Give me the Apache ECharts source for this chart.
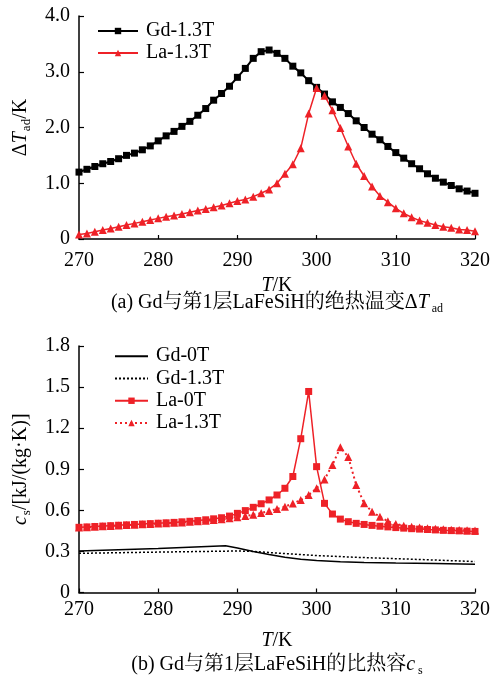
<!DOCTYPE html>
<html>
<head>
<meta charset="utf-8">
<script src="https://cdn.jsdelivr.net/npm/echarts@6/dist/echarts.min.js"></script>
<style>
html,body{margin:0;padding:0;background:#fff;}
#chart{width:494px;height:679px;}
</style>
</head>
<body>
<div id="chart"></div>
<script>
// ---- data ----
var temps = [270,271,272,273,274,275,276,277,278,279,280,281,282,283,284,285,286,287,288,289,290,
             291,292,293,294,295,296,297,298,299,300,301,302,303,304,305,306,307,308,309,310,
             311,312,313,314,315,316,317,318,319,320];
// (a) adiabatic temperature change, K
var gdDeltaT13 = [1.20,1.25,1.30,1.35,1.39,1.44,1.50,1.54,1.60,1.67,1.76,
                  1.85,1.93,2.02,2.11,2.22,2.34,2.49,2.61,2.74,2.90,
                  3.06,3.24,3.36,3.39,3.33,3.24,3.10,2.98,2.84,2.72,
                  2.60,2.46,2.36,2.25,2.12,2.00,1.88,1.78,1.66,1.55,
                  1.45,1.35,1.26,1.17,1.09,1.02,0.96,0.90,0.86,0.82];
var laDeltaT13 = [0.08,0.10,0.13,0.16,0.19,0.22,0.25,0.28,0.31,0.34,0.37,
                  0.40,0.42,0.45,0.48,0.51,0.54,0.57,0.60,0.64,0.68,
                  0.71,0.76,0.82,0.89,1.00,1.17,1.34,1.63,2.25,2.71,
                  2.57,2.31,1.99,1.66,1.35,1.13,0.94,0.77,0.66,0.55,
                  0.46,0.39,0.33,0.29,0.25,0.22,0.20,0.17,0.16,0.14];
// (b) specific heat, kJ/(kg K)
var laCs0 = [0.476,0.479,0.482,0.485,0.488,0.491,0.494,0.497,0.500,0.503,0.506,
             0.509,0.512,0.516,0.520,0.525,0.531,0.538,0.546,0.558,0.578,
             0.598,0.622,0.648,0.676,0.712,0.761,0.847,1.123,1.468,0.919,
             0.651,0.573,0.536,0.517,0.505,0.497,0.490,0.484,0.479,0.474,
             0.470,0.466,0.463,0.460,0.457,0.454,0.452,0.450,0.448,0.446];
var laCs13 = [0.474,0.477,0.480,0.483,0.486,0.489,0.492,0.495,0.498,0.500,0.503,
              0.506,0.509,0.512,0.516,0.520,0.524,0.529,0.535,0.542,0.550,
              0.558,0.568,0.580,0.595,0.610,0.627,0.650,0.675,0.712,0.761,
              0.826,0.931,1.060,0.990,0.785,0.651,0.590,0.553,0.520,0.500,
              0.488,0.480,0.474,0.469,0.465,0.462,0.459,0.457,0.455,0.453];
var gdCs0T = [270,280,288.5,290,292,294,296,298,300,303,306,310,315,320];
var gdCs0  = [0.303,0.322,0.342,0.325,0.300,0.278,0.258,0.243,0.233,0.224,0.219,0.215,0.212,0.207];
var gdCs13T = [270,280,290,292,295,300,305,310,315,320];
var gdCs13  = [0.286,0.295,0.303,0.300,0.288,0.270,0.257,0.247,0.237,0.226];

var xTicks = [270,280,290,300,310,320];
var yTicksA = [0,1,2,3,4];
var yTicksB = [0,0.3,0.6,0.9,1.2,1.5,1.8];

// ---- helpers ----
function pairs(xs, ys){ return xs.map(function(x,i){ return [x, ys[i]]; }); }
var FONT = "'Liberation Serif', 'Times New Roman', 'Noto Serif CJK SC', 'Noto Sans CJK SC', serif";
var RED = '#ee2127';
var richBase = {
  n:   {fontFamily: FONT, fontSize: 20, color: '#000', fontWeight: 'normal', lineHeight: 24},
  i:   {fontFamily: FONT, fontSize: 20, color: '#000', fontWeight: 'normal', fontStyle: 'italic', lineHeight: 24},
  sub: {fontFamily: FONT, fontSize: 13, color: '#000', fontWeight: 'normal', lineHeight: 13, verticalAlign: 'bottom', padding:[0,0,0,1]}
};
var richCap = {
  n:   {fontFamily: FONT, fontSize: 20, color: '#000', fontWeight: 'normal', lineHeight: 24},
  i:   {fontFamily: FONT, fontSize: 20, color: '#000', fontWeight: 'normal', fontStyle: 'italic', lineHeight: 24},
  sub: {fontFamily: FONT, fontSize: 12, color: '#000', fontWeight: 'normal', lineHeight: 12, verticalAlign: 'bottom', padding:[0,0,0,3]}
};

function xAxisCfg(gridIndex, labelMargin, nameGap){
  return {
    type: 'value', gridIndex: gridIndex, min: xTicks[0], max: xTicks[xTicks.length-1],
    interval: xTicks[1]-xTicks[0],
    name: '{i|T}{n|/K}', nameLocation: 'middle', nameGap: nameGap,
    nameTextStyle: {rich: richBase},
    axisLine: {lineStyle: {color: '#000', width: 1.5}},
    axisTick: {inside: true, length: 4, lineStyle: {color: '#000', width: 1.2}},
    axisLabel: {color: '#000', fontFamily: FONT, fontSize: 20, margin: labelMargin},
    splitLine: {show: false}
  };
}
function yAxisCfg(gridIndex, ticks, name, nameGap, digits){
  return {
    type: 'value', gridIndex: gridIndex, min: ticks[0], max: ticks[ticks.length-1],
    interval: ticks[1]-ticks[0],
    name: name, nameLocation: 'middle', nameGap: nameGap, nameRotate: 90,
    nameTextStyle: {rich: richBase},
    axisLine: {show: true, lineStyle: {color: '#000', width: 1.5}},
    axisTick: {show: true, inside: true, length: 5, lineStyle: {color: '#000', width: 1.2}},
    axisLabel: {color: '#000', fontFamily: FONT, fontSize: 20, margin: 9,
      formatter: function(v){ return v === 0 ? '0' : v.toFixed(digits); }},
    splitLine: {show: false}
  };
}

var chart = echarts.init(document.getElementById('chart'));
chart.setOption({
  animation: false,
  backgroundColor: '#fff',
  title: [
    {text: '{n|(a) Gd与第1层LaFeSiH的绝热温变Δ}{i|T}{sub|ad}', left: 277, top: 291, textAlign: 'center', padding: 0,
     textStyle: {fontWeight: 'normal', rich: richCap}},
    {text: '{n|(b) Gd与第1层LaFeSiH的比热容}{i|c}{sub|s}', left: 277, top: 653, textAlign: 'center', padding: 0,
     textStyle: {fontWeight: 'normal', rich: richCap}}
  ],
  grid: [
    {left: 79, top: 16, width: 396, height: 223, containLabel: false},
    {left: 79, top: 346, width: 396, height: 246.5, containLabel: false}
  ],
  legend: [
    {orient: 'vertical', left: 97, top: 20, padding: 0, itemGap: 0, itemWidth: 40, itemHeight: 8,
     data: ['Gd-1.3T', 'La-1.3T'],
     textStyle: {fontFamily: FONT, fontSize: 20, color: '#000', lineHeight: 22, padding: [0,0,0,3]}},
    {orient: 'vertical', left: 114, top: 345, padding: 0, itemGap: 0, itemWidth: 33, itemHeight: 8,
     data: [{name: 'b:Gd-0T', itemStyle: {opacity: 0}}, {name: 'b:Gd-1.3T', itemStyle: {opacity: 0}},
            'b:La-0T', 'b:La-1.3T'],
     formatter: function(name){ return name.replace('b:', ''); },
     textStyle: {fontFamily: FONT, fontSize: 20, color: '#000', lineHeight: 22.3, padding: [0,0,0,3]}}
  ],
  xAxis: [xAxisCfg(0, 12, 35), xAxisCfg(1, 7, 36)],
  yAxis: [
    yAxisCfg(0, yTicksA, '{n|Δ}{i|T}{sub|ad}{n|/K}', 46, 1),
    yAxisCfg(1, yTicksB, '{i|c}{sub|s}{n|/[kJ/(kg·K)]}', 46, 1)
  ],
  series: [
    {name: 'Gd-1.3T', type: 'line', xAxisIndex: 0, yAxisIndex: 0, data: pairs(temps, gdDeltaT13),
     symbol: 'rect', symbolSize: 7, showAllSymbol: true, color: '#000',
     lineStyle: {color: '#000', width: 2}, itemStyle: {color: '#000'}},
    {name: 'La-1.3T', type: 'line', xAxisIndex: 0, yAxisIndex: 0, data: pairs(temps, laDeltaT13),
     symbol: 'triangle', symbolSize: 8, showAllSymbol: true, color: RED,
     lineStyle: {color: RED, width: 1.5}, itemStyle: {color: RED}},
    {name: 'b:Gd-0T', type: 'line', xAxisIndex: 1, yAxisIndex: 1, data: pairs(gdCs0T, gdCs0),
     symbol: 'none', color: '#000', lineStyle: {color: '#000', width: 1.5}},
    {name: 'b:Gd-1.3T', type: 'line', xAxisIndex: 1, yAxisIndex: 1, data: pairs(gdCs13T, gdCs13),
     symbol: 'none', color: '#000', lineStyle: {color: '#000', width: 1.5, type: [2, 2]}},
    {name: 'b:La-0T', type: 'line', xAxisIndex: 1, yAxisIndex: 1, data: pairs(temps, laCs0),
     symbol: 'rect', symbolSize: 7, showAllSymbol: true, color: RED,
     lineStyle: {color: RED, width: 1.5}, itemStyle: {color: RED}},
    {name: 'b:La-1.3T', type: 'line', xAxisIndex: 1, yAxisIndex: 1, data: pairs(temps, laCs13),
     symbol: 'triangle', symbolSize: 8, showAllSymbol: true, color: RED,
     lineStyle: {color: RED, width: 2, type: [2, 3]}, itemStyle: {color: RED}}
  ]
});
</script>
</body>
</html>
